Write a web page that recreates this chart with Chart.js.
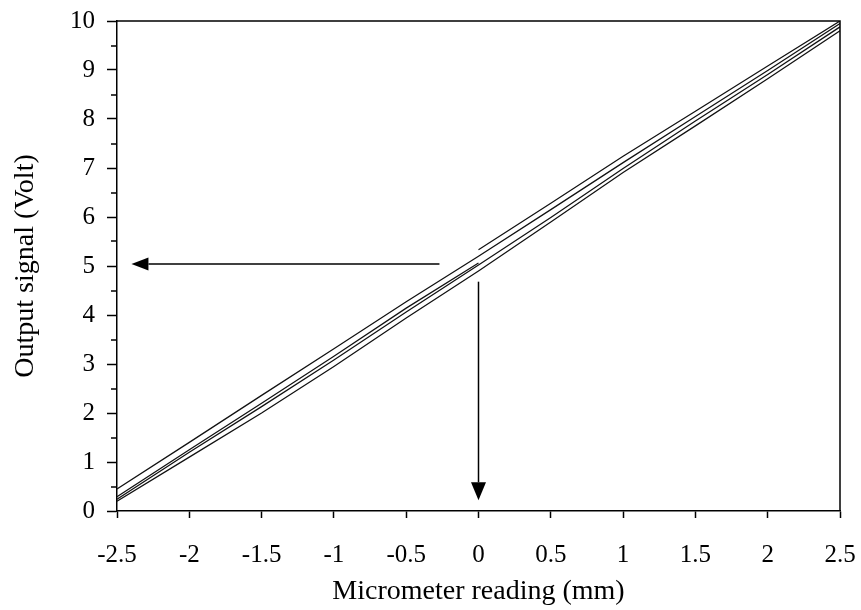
<!DOCTYPE html>
<html><head><meta charset="utf-8">
<script src="https://cdn.jsdelivr.net/npm/chart.js@4/dist/chart.umd.min.js"></script>
<style>html,body{margin:0;padding:0;background:#fff}#wrap{width:861px;height:610px}</style>
</head><body><div id="wrap"><canvas id="c" width="861" height="610"></canvas></div>
<script>
// ---- data ----
const xTicks = [-2.5, -2, -1.5, -1, -0.5, 0, 0.5, 1, 1.5, 2, 2.5];
const yTicks = [0, 1, 2, 3, 4, 5, 6, 7, 8, 9, 10];
const yMinorTicks = [0.5, 1.5, 2.5, 3.5, 4.5, 5.5, 6.5, 7.5, 8.5, 9.5];
const xFull = [-2.5, -2, -1.5, -1, -0.5, 0, 0.5, 1, 1.5, 2, 2.5];
const xLeftHalf = [-2.5, -2, -1.5, -1, -0.5, 0];
const xRightHalf = [0, 0.5, 1, 1.5, 2, 2.5];
const startSweep = [5.33, 6.28, 7.24, 8.16, 9.08, 10.0];
const sweepA = [0.45, 1.40, 2.36, 3.31, 4.27, 5.20, 6.15, 7.11, 8.05, 8.99, 9.95];
const sweepB = [0.24, 1.20, 2.13, 3.08, 4.06, 5.02, 5.99, 6.99, 7.96, 8.91, 9.88];
const sweepC = [0.20, 1.10, 2.00, 2.95, 3.94, 4.90, 5.90, 6.91, 7.86, 8.82, 9.80];
const endSweep = [0.29, 1.25, 2.20, 3.16, 4.14, 5.06];
// annotation arrows (data units): [x, y] start -> tip
const arrowToY = [[-0.27, 5.04], [-2.40, 5.04]];
const arrowToX = [[0.0, 4.68], [0.0, 0.22]];

const FONT = 'Liberation Serif';
const pts = (xs, ys) => xs.map((x, i) => ({x: x, y: ys[i]}));
const lineStyle = {borderColor: '#111', borderWidth: 1.25, pointRadius: 0, tension: 0, fill: false};

const extras = {
  id: 'extras',
  afterDraw(chart) {
    const {ctx, chartArea: a, scales: {x, y}} = chart;
    ctx.save();
    ctx.strokeStyle = '#000';
    ctx.lineWidth = 1.5;
    ctx.beginPath();
    ctx.moveTo(a.left, a.top); ctx.lineTo(a.right, a.top); ctx.lineTo(a.right, a.bottom);
    ctx.stroke();
    ctx.beginPath();
    yMinorTicks.forEach(v => { const py = Math.round(y.getPixelForValue(v)); ctx.moveTo(a.left - 6, py); ctx.lineTo(a.left, py); });
    ctx.stroke();
    const arrow = (seg, len, half) => {
      const x0 = x.getPixelForValue(seg[0][0]), y0 = y.getPixelForValue(seg[0][1]);
      const x1 = x.getPixelForValue(seg[1][0]), y1 = y.getPixelForValue(seg[1][1]);
      const ang = Math.atan2(y1 - y0, x1 - x0);
      const bx = x1 - len * Math.cos(ang), by = y1 - len * Math.sin(ang);
      ctx.lineWidth = 1.5;
      ctx.beginPath(); ctx.moveTo(x0, y0); ctx.lineTo(bx, by); ctx.stroke();
      ctx.fillStyle = '#000';
      ctx.beginPath();
      ctx.moveTo(x1, y1);
      ctx.lineTo(bx + half * Math.sin(ang), by - half * Math.cos(ang));
      ctx.lineTo(bx - half * Math.sin(ang), by + half * Math.cos(ang));
      ctx.closePath(); ctx.fill();
    };
    arrow(arrowToY, 17, 6.5);
    arrow(arrowToX, 18, 7.5);
    ctx.restore();
  }
};

new Chart(document.getElementById('c'), {
  type: 'line',
  data: {
    datasets: [
      Object.assign({label: 'start', data: pts(xRightHalf, startSweep)}, lineStyle),
      Object.assign({label: 'A', data: pts(xFull, sweepA)}, lineStyle),
      Object.assign({label: 'B', data: pts(xFull, sweepB)}, lineStyle),
      Object.assign({label: 'C', data: pts(xFull, sweepC)}, lineStyle),
      Object.assign({label: 'end', data: pts(xLeftHalf, endSweep)}, lineStyle)
    ]
  },
  options: {
    responsive: false,
    animation: false,
    devicePixelRatio: 1,
    layout: {padding: {top: 21, right: 21, left: 0, bottom: 0}},
    plugins: {legend: {display: false}, tooltip: {enabled: false}},
    scales: {
      x: {
        type: 'linear', min: -2.5, max: 2.5,
        afterBuildTicks: s => { s.ticks = xTicks.map(v => ({value: v})); },
        afterFit: s => { s.height = 99; s.paddingLeft = 0; s.paddingRight = 0; },
        grid: {drawOnChartArea: false, drawTicks: true, tickLength: 7, tickWidth: 1.5, color: '#000'},
        border: {display: true, color: '#000', width: 1.5},
        ticks: {color: '#000', padding: 22, maxRotation: 0, autoSkip: false, font: {family: FONT, size: 25}, callback: v => String(v)},
        title: {display: true, text: 'Micrometer reading (mm)', color: '#000', font: {family: FONT, size: 28, lineHeight: 1}, padding: {top: 0, bottom: 4}}
      },
      y: {
        type: 'linear', min: 0, max: 10,
        afterBuildTicks: s => { s.ticks = yTicks.map(v => ({value: v})); },
        afterFit: s => { s.width = 117; s.paddingTop = 0; s.paddingBottom = 0; },
        grid: {drawOnChartArea: false, drawTicks: true, tickLength: 10, tickWidth: 1.5, color: '#000'},
        border: {display: true, color: '#000', width: 1.5},
        ticks: {color: '#000', padding: 12, autoSkip: false, font: {family: FONT, size: 25}, callback: v => String(v)},
        title: {display: true, text: 'Output signal (Volt)', color: '#000', font: {family: FONT, size: 28, lineHeight: 1}, padding: {top: 12, bottom: 0}}
      }
    }
  },
  plugins: [extras]
});
</script>
</body></html>
